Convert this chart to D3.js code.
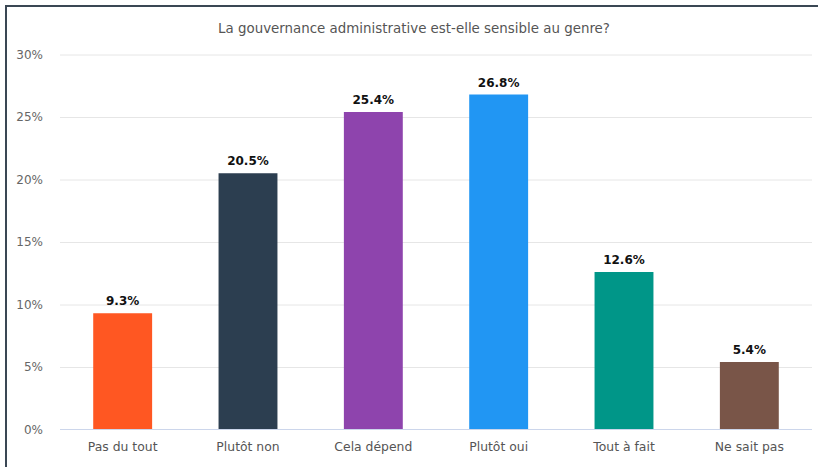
<!DOCTYPE html>
<html>
<head>
<meta charset="utf-8">
<script src="https://cdn.jsdelivr.net/npm/d3@7"></script>
<style>
  html, body { margin: 0; padding: 0; background: #fff; }
  svg { display: block; }
  text { font-family: "Lucida Grande", "Lucida Sans Unicode", "DejaVu Sans", Verdana, sans-serif; }
</style>
</head>
<body>
<svg id="chart" width="818" height="467"></svg>
<script>
// Survey answers and their shares (%)
const categories = ["Pas du tout", "Plutôt non", "Cela dépend", "Plutôt oui", "Tout à fait", "Ne sait pas"];
const values = [9.3, 20.5, 25.4, 26.8, 12.6, 5.4];
const barColors = ["#FF5722", "#2C3E50", "#8E44AD", "#2196F3", "#009688", "#795548"];
const yTicks = [0, 5, 10, 15, 20, 25, 30];
const title = "La gouvernance administrative est-elle sensible au genre?";

const svg = d3.select("#chart");
const W = 818, H = 467;
const plot = { left: 60, right: 812, top: 54.5, bottom: 429.5 };

// Panel frame (top and left edges)
svg.append("rect").attr("x", 0).attr("y", 0).attr("width", W).attr("height", H).attr("fill", "#fff");
svg.append("line").attr("x1", 5).attr("x2", W).attr("y1", 6).attr("y2", 6)
  .attr("stroke", "#3a4754").attr("stroke-width", 2);
svg.append("line").attr("x1", 6).attr("x2", 6).attr("y1", 5).attr("y2", H)
  .attr("stroke", "#3a4754").attr("stroke-width", 2);

const x = d3.scaleBand().domain(categories).range([plot.left, plot.right])
  .paddingInner(0.53).paddingOuter(0.265);
const y = d3.scaleLinear().domain([0, 30]).range([plot.bottom, plot.top]);

// Title
svg.append("text").attr("x", 414).attr("y", 33).attr("text-anchor", "middle")
  .attr("font-size", 13.4).attr("fill", "#555").text(title);

// Grid lines + y tick labels
const yAxis = d3.axisLeft(y).tickValues(yTicks).tickSize(-(plot.right - plot.left))
  .tickFormat(d => d + "%").tickPadding(17);
const gy = svg.append("g").attr("transform", `translate(${plot.left},0)`).call(yAxis);
gy.select(".domain").remove();
gy.selectAll(".tick line").attr("stroke", "#e6e6e6").attr("stroke-width", 1)
  .filter(d => d === 0).attr("stroke", "none");
gy.selectAll(".tick text").attr("font-size", 12).attr("fill", "#666")
  .attr("font-family", null);

// Bars
svg.append("g").selectAll("rect").data(values).join("rect")
  .attr("x", (d, i) => x(categories[i]))
  .attr("y", d => y(d))
  .attr("width", x.bandwidth())
  .attr("height", d => y(0) - y(d))
  .attr("fill", (d, i) => barColors[i]);

// Value labels
svg.append("g").selectAll("text").data(values).join("text")
  .attr("x", (d, i) => x(categories[i]) + x.bandwidth() / 2)
  .attr("y", d => y(d) - 8)
  .attr("text-anchor", "middle")
  .attr("font-size", 12).attr("font-weight", "bold").attr("fill", "#111")
  .text(d => d.toFixed(1) + "%");

// X axis
const xAxis = d3.axisBottom(x).tickSize(0).tickPadding(13);
const gx = svg.append("g").attr("transform", `translate(0,${plot.bottom})`).call(xAxis);
gx.select(".domain").attr("stroke", "#ccd6eb").attr("d", `M${plot.left},0H${plot.right}`);
gx.selectAll(".tick text").attr("font-size", 12.4).attr("fill", "#555").attr("font-family", null);
</script>
</body>
</html>
